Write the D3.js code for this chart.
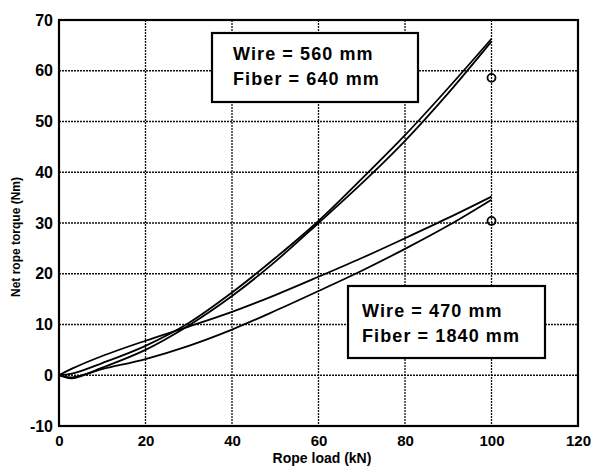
<!DOCTYPE html>
<html><head><meta charset="utf-8">
<script src="https://cdn.jsdelivr.net/npm/d3@7/dist/d3.min.js"></script>
<style>body{margin:0;background:#fff}svg{display:block}text{font-family:"Liberation Sans",Arial,sans-serif;font-weight:bold;fill:#000}</style>
</head><body><svg id="c" width="597" height="470"></svg>
<script>
// Rope load (kN)
const loadA = [0, 3, 10, 20, 30, 40, 50, 60, 70, 80, 90, 100];
// Wire = 560 mm, Fiber = 640 mm (two branches)
const torque560a = [0, -0.6, 1.5, 5.0, 9.8, 15.6, 22.4, 30.0, 37.8, 46.2, 55.6, 65.8];
const torque560b = [0, 0.3, 2.4, 5.8, 10.3, 16.3, 23.1, 30.4, 38.7, 47.3, 56.6, 66.3];
// Wire = 470 mm, Fiber = 1840 mm (two branches)
const torque470a = [0, 1.3, 3.8, 6.8, 9.6, 12.5, 15.8, 19.4, 23.1, 27.0, 31.0, 35.2];
const torque470b = [0, -0.4, 1.2, 3.2, 5.8, 9.0, 12.7, 16.6, 20.6, 24.9, 29.5, 34.6];
// Measured points (circles)
const markX = [100, 100];
const markY = [58.6, 30.4];
const xTicks = [0, 20, 40, 60, 80, 100, 120];
const yTicks = [-10, 0, 10, 20, 30, 40, 50, 60, 70];
const labels = [["Wire = 560 mm", "Fiber = 640 mm"], ["Wire = 470 mm", "Fiber = 1840 mm"]];

const svg = d3.select("#c");
const L = 59, R = 578, T = 20, B = 426;
const x = d3.scaleLinear().domain([0, 120]).range([L, R]);
const y = d3.scaleLinear().domain([-10, 70]).range([B, T]);

// grid
const g = svg.append("g");
g.selectAll("line.gx").data(xTicks.slice(1, -1)).join("line")
  .attr("x1", d => x(d)).attr("x2", d => x(d)).attr("y1", T).attr("y2", B)
  .attr("stroke", "#111").attr("stroke-width", 1.3).attr("stroke-dasharray", "2,1");
g.selectAll("line.gy").data(yTicks.slice(1, -1)).join("line")
  .attr("y1", d => y(d)).attr("y2", d => y(d)).attr("x1", L).attr("x2", R)
  .attr("stroke", "#111").attr("stroke-width", 1.3).attr("stroke-dasharray", "2,1");

// axes
const fmt = d => String(d);
const xAxis = d3.axisBottom(x).tickValues(xTicks).tickFormat(fmt).tickSize(0).tickPadding(9);
const yAxis = d3.axisLeft(y).tickValues(yTicks).tickFormat(fmt).tickSize(0).tickPadding(6);
const gx = svg.append("g").attr("transform", `translate(0,${B})`).call(xAxis);
const gy = svg.append("g").attr("transform", `translate(${L},0)`).call(yAxis);
[gx, gy].forEach(a => { a.select(".domain").remove(); a.selectAll("text").style("font-size", "15px").attr("fill", "#000"); });
gy.selectAll("text").style("font-size", "16px");

svg.append("rect").attr("x", L).attr("y", T).attr("width", R - L).attr("height", B - T)
  .attr("fill", "none").attr("stroke", "#000").attr("stroke-width", 2.2);

// curves
const line = d3.line().x((d, i) => x(loadA[i])).y(d => y(d)).curve(d3.curveCatmullRom.alpha(0.5));
[torque560a, torque560b, torque470a, torque470b].forEach(s => {
  svg.append("path").attr("d", line(s)).attr("fill", "none").attr("stroke", "#000").attr("stroke-width", 1.8);
});

svg.selectAll("circle.m").data(markX).join("circle")
  .attr("cx", d => x(d)).attr("cy", (d, i) => y(markY[i])).attr("r", 4)
  .attr("fill", "none").attr("stroke", "#000").attr("stroke-width", 1.8);

// label boxes
const boxes = [{x: 212, y: 33, w: 206, h: 69, tx: 233, ty: 60}, {x: 348, y: 286, w: 197, h: 72, tx: 362, ty: 317}];
boxes.forEach((b, i) => {
  svg.append("rect").attr("x", b.x).attr("y", b.y).attr("width", b.w).attr("height", b.h)
    .attr("fill", "#fff").attr("stroke", "#000").attr("stroke-width", 2.2);
  labels[i].forEach((t, j) => {
    svg.append("text").attr("x", b.tx).attr("y", b.ty + j * 25).text(t)
      .style("font-size", "18px").style("letter-spacing", "1.1px");
  });
});

// axis titles
svg.append("text").attr("x", 322).attr("y", 463).attr("text-anchor", "middle").style("font-size", "14px").text("Rope load (kN)");
svg.append("text").attr("transform", "translate(20,237) rotate(-90)").attr("text-anchor", "middle").style("font-size", "12px").text("Net rope torque (Nm)");
</script></body></html>
